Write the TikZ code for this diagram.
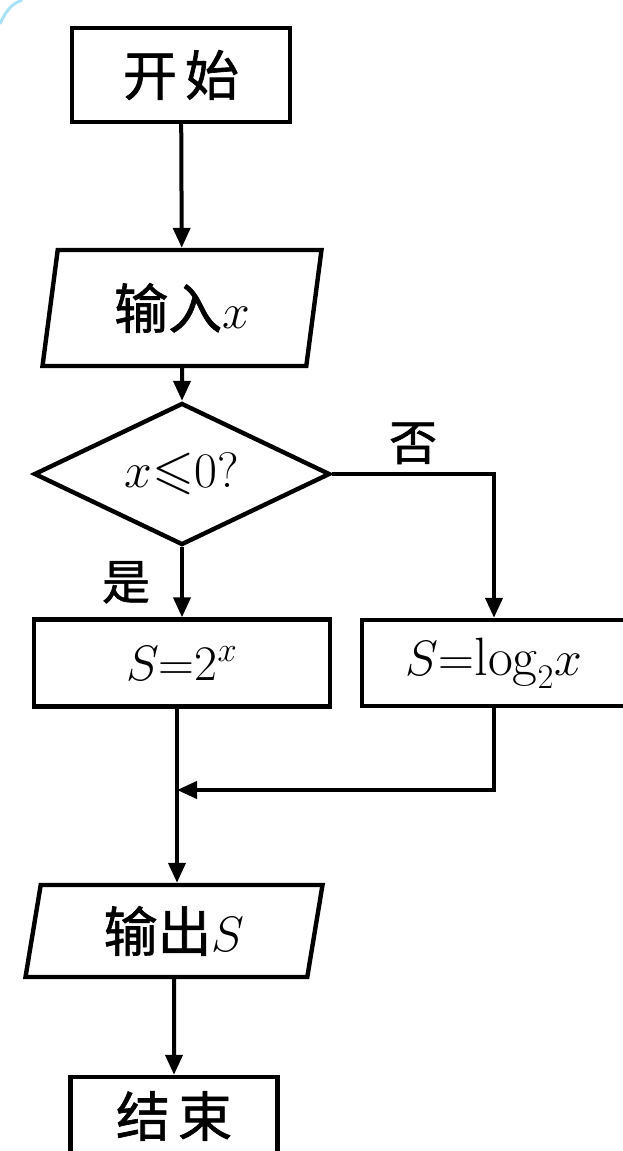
\documentclass[tikz,border=0pt]{standalone}
\usepackage{fontspec}
\usepackage{amssymb}
\newfontfamily\cjk{Noto Sans CJK SC}[FakeBold=1.2]
\usetikzlibrary{shapes.geometric,arrows.meta}
\begin{document}
\begin{tikzpicture}[x=0.5pt,y=-0.5pt]
	\tikzset{block/.style = {draw, line width=2.2pt, inner sep=0pt, font=\fontsize{27}{31}\selectfont}}
	\tikzset{io/.style = {block, trapezium, trapezium left angle=73, trapezium right angle=107, trapezium stretches body}}
	\tikzset{decision/.style = {block, diamond, aspect=2}}
	\tikzset{lbl/.style = {inner sep=0pt, font=\fontsize{24}{28}\selectfont\cjk}}
	\tikzset{edge/.style = {line width=2pt, -{Triangle[length=10pt, width=8.5pt]}}}
	\useasboundingbox (0,0) rectangle (622,1151);
	\draw[cyan!35, line width=1.5pt] (0,24) .. controls (6,10) and (12,4) .. (22,0);
	% Draw the blocks
	\node[block, minimum width=109pt, minimum height=47pt] (start) at (181,75) {\cjk 开\hspace{4pt}始};
	\node[io, minimum width=139.5pt, minimum height=58pt] (input) at (182,308) {\cjk 输入$x$};
	\node[decision, minimum width=148pt, minimum height=71pt] (cond) at (182,474) {$x{\leqslant}0?$};
	\node[block, minimum width=148pt, minimum height=43.5pt] (yes) at (182,663) {$S{=}2^x$};
	\node[block, minimum width=132pt, minimum height=43pt] (no) at (494,663) {$S{=}\mathrm{log}_2x$};
	\coordinate (join) at (177,790);
	\node[io, minimum width=148.5pt, minimum height=46pt] (output) at (174,931) {\cjk 输出$S$};
	\node[block, minimum width=103.5pt, minimum height=39pt] (stop) at (174,1116) {\cjk 结\hspace{4pt}束};
	% Draw the connectors
	\draw[edge] (start) -- (input);
	\draw[edge] (input) -- (cond);
	\draw[edge] (cond) -- node[lbl, left=15pt] {是} (yes);
	\draw[edge] (cond.east) -| node[lbl, pos=0.25, above=4pt] {否} (no.north);
	\draw[edge] (yes.south -| join) -- (output.north -| join);
	\draw[edge] (no.south) |- (join);
	\draw[edge] (output) -- (stop);
\end{tikzpicture}
\end{document}
